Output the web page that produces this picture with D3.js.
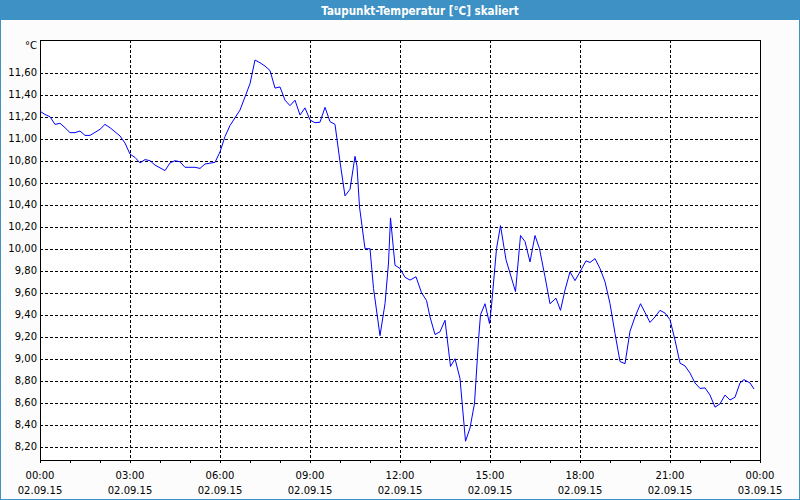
<!DOCTYPE html>
<html>
<head>
<meta charset="utf-8">
<script src="https://cdn.jsdelivr.net/npm/d3@7"></script>
<style>
  html, body { margin: 0; padding: 0; background: #fbfcfb; }
  svg { display: block; }
  text { font-family: "DejaVu Sans", Verdana, sans-serif; }
</style>
</head>
<body>
<svg id="chart" width="800" height="500"></svg>
<script>
// ---- data (minutes after 02.09.15 00:00, dew point °C) ----
const title = "Taupunkt-Temperatur [°C] skaliert";
const unitLabel = "°C";
const minutes = [0,10,20,30,40,50,60,70,80,90,100,120,130,140,160,170,180,190,200,210,220,230,250,260,270,280,290,310,320,330,350,360,370,380,400,410,420,430,440,450,460,470,480,490,500,510,520,530,540,550,560,570,580,590,600,610,620,630,634,639,650,660,667,680,690,697,701,710,720,730,740,752,763,773,780,790,800,810,821,830,840,851,860,869,877,881,890,899,903,913,921,932,951,961,970,980,990,999,1010,1020,1032,1041,1050,1060,1070,1080,1092,1100,1110,1120,1130,1140,1150,1160,1170,1180,1190,1201,1210,1220,1230,1240,1250,1260,1270,1280,1290,1300,1310,1320,1330,1340,1350,1360,1370,1380,1390,1400,1408,1420,1428];
const values = [11.25,11.22,11.20,11.13,11.14,11.10,11.055,11.055,11.07,11.03,11.03,11.085,11.13,11.10,11.025,10.96,10.86,10.83,10.78,10.81,10.80,10.76,10.71,10.78,10.80,10.79,10.74,10.74,10.73,10.77,10.785,10.88,11.02,11.12,11.26,11.38,11.50,11.715,11.69,11.66,11.62,11.46,11.47,11.35,11.30,11.35,11.215,11.28,11.17,11.145,11.15,11.285,11.155,11.13,10.79,10.48,10.54,10.84,10.75,10.38,10.00,10.00,9.64,9.21,9.50,9.87,10.28,9.85,9.82,9.74,9.715,9.745,9.60,9.53,9.38,9.22,9.245,9.35,8.93,9.00,8.82,8.25,8.37,8.595,9.17,9.40,9.50,9.32,9.48,10.00,10.21,9.90,9.61,10.12,10.065,9.88,10.12,10.00,9.745,9.50,9.55,9.44,9.625,9.79,9.71,9.79,9.89,9.875,9.91,9.82,9.70,9.50,9.23,8.975,8.955,9.25,9.38,9.50,9.42,9.33,9.38,9.44,9.415,9.355,9.17,8.96,8.935,8.87,8.78,8.73,8.735,8.67,8.56,8.59,8.67,8.625,8.65,8.78,8.81,8.78,8.725];
const yTicks = [8.2,8.4,8.6,8.8,9.0,9.2,9.4,9.6,9.8,10.0,10.2,10.4,10.6,10.8,11.0,11.2,11.4,11.6];
const xMajorHours = [0,3,6,9,12,15,18,21,24];
const xMinorHours = d3.range(0, 25, 1);
const startDate = new Date(2015, 8, 2, 0, 0);
const endDate = new Date(2015, 8, 3, 0, 0);

// ---- layout ----
const W = 800, H = 500;
const plot = { left: 40, top: 40, right: 760, bottom: 460 };
const svg = d3.select("#chart");

const x = d3.scaleTime().domain([startDate, endDate]).range([plot.left, plot.right]);
const y = d3.scaleLinear().domain([8.0797, 11.897]).range([plot.bottom, plot.top]);
const toDate = m => new Date(startDate.getTime() + m * 60000);

// background & frame
svg.append("rect").attr("x", 0).attr("y", 0).attr("width", W).attr("height", H).attr("fill", "#fbfcfb");
svg.append("rect").attr("x", 0).attr("y", 0).attr("width", W).attr("height", 20).attr("fill", "#3d91c4");
svg.append("rect").attr("x", 0.5).attr("y", 0.5).attr("width", W - 1).attr("height", H - 1)
  .attr("fill", "none").attr("stroke", "#3d91c4").attr("stroke-width", 1);
svg.append("text").attr("x", 420).attr("y", 14.5).attr("text-anchor", "middle")
  .attr("fill", "#ffffff").attr("font-weight", "bold").attr("font-size", "11.5px")
  .style("font-family", "'DejaVu Sans Condensed', 'Liberation Sans Narrow', 'DejaVu Sans', sans-serif")
  .text(title);

svg.append("rect").attr("x", plot.left).attr("y", plot.top)
  .attr("width", plot.right - plot.left).attr("height", plot.bottom - plot.top).attr("fill", "#ffffff");

const gGrid = svg.append("g").attr("shape-rendering", "crispEdges");
// horizontal grid
gGrid.selectAll("line.h").data(yTicks).join("line")
  .attr("x1", plot.left).attr("x2", plot.right)
  .attr("y1", d => Math.round(y(d)) + 0.5).attr("y2", d => Math.round(y(d)) + 0.5)
  .attr("stroke", "#000").attr("stroke-dasharray", "3,2");
// vertical grid
gGrid.selectAll("line.v").data(xMajorHours.slice(1, -1)).join("line")
  .attr("x1", d => Math.round(x(toDate(d * 60))) + 0.5).attr("x2", d => Math.round(x(toDate(d * 60))) + 0.5)
  .attr("y1", plot.top).attr("y2", plot.bottom)
  .attr("stroke", "#000").attr("stroke-dasharray", "3,2");

// y axis labels
const yAxis = d3.axisLeft(y).tickValues(yTicks).tickSize(0).tickPadding(3)
  .tickFormat(d => d3.format(".2f")(d).replace(".", ","));
const gy = svg.append("g").attr("transform", `translate(${plot.left},0)`).call(yAxis);
gy.select(".domain").remove();
gy.selectAll("text").attr("font-size", "10px").attr("fill", "#000")
  .style("font-family", "'DejaVu Sans', Verdana, sans-serif");

svg.append("text").attr("x", 37).attr("y", 49).attr("text-anchor", "end")
  .attr("font-size", "10px").attr("fill", "#000").text(unitLabel);

// x axis
const xAxis = d3.axisBottom(x).tickValues(xMinorHours.map(h => toDate(h * 60))).tickSize(3).tickFormat("");
const gx = svg.append("g").attr("transform", `translate(0,${plot.bottom})`)
  .attr("shape-rendering", "crispEdges").call(xAxis);
gx.select(".domain").remove();
gx.selectAll("line").attr("stroke", "#000");

const fmtTime = d3.timeFormat("%H:%M"), fmtDate = d3.timeFormat("%d.%m.%y");
const xl = svg.append("g").attr("font-size", "10px").attr("fill", "#000").attr("text-anchor", "middle");
xMajorHours.forEach(h => {
  const d = toDate(h * 60);
  xl.append("text").attr("x", x(d)).attr("y", 479).text(fmtTime(d));
  xl.append("text").attr("x", x(d)).attr("y", 494).text(fmtDate(d));
});

// frame
svg.append("rect").attr("x", plot.left + 0.5).attr("y", plot.top + 0.5)
  .attr("width", plot.right - plot.left).attr("height", plot.bottom - plot.top)
  .attr("fill", "none").attr("stroke", "#000").attr("shape-rendering", "crispEdges");

// line
const pts = minutes.map((m, i) => ({ t: toDate(m), v: values[i] }));
svg.append("path").datum(pts)
  .attr("d", d3.line().x(d => x(d.t)).y(d => y(d.v)))
  .attr("fill", "none").attr("stroke", "#0000ff").attr("stroke-width", 1);
</script>
</body>
</html>
